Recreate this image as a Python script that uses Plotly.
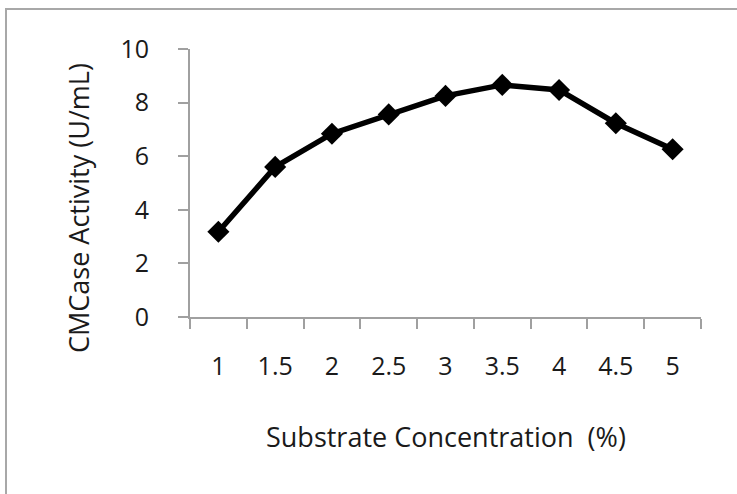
import plotly.graph_objects as go

# Substrate concentration (%) and measured CMCase activity (U/mL)
concentration = ["1", "1.5", "2", "2.5", "3", "3.5", "4", "4.5", "5"]
activity = [3.18, 5.60, 6.84, 7.56, 8.25, 8.66, 8.47, 7.23, 6.26]

y_ticks = [0, 2, 4, 6, 8, 10]

x_title = "Substrate Concentration  (%)"
y_title = "CMCase Activity (U/mL)"

W, H = 737, 494
L, R, T, B = 190, 36, 49, 177
plot_w = W - L - R
plot_h = H - T - B


def px_x(p):
    return (p - L) / plot_w


def px_y(p):
    return (H - B - p) / plot_h


font_family = "Open Sans, Liberation Sans, Arial, sans-serif"
text_color = "#1a1a1a"
axis_color = "#a0a0a0"
tick_size = 25
title_size = 27

fig = go.Figure()
fig.add_trace(go.Scatter(
    x=concentration,
    y=activity,
    mode="lines+markers",
    line=dict(color="black", width=5.5),
    marker=dict(symbol="diamond", size=17, color="black"),
    showlegend=False,
))

fig.update_layout(
    width=W,
    height=H,
    margin=dict(l=L, r=R, t=T, b=B),
    paper_bgcolor="white",
    plot_bgcolor="white",
    font=dict(family=font_family, color=text_color, size=tick_size),
    xaxis=dict(
        type="category",
        categoryorder="array",
        categoryarray=concentration,
        tickson="boundaries",
        ticks="outside",
        ticklen=10,
        tickwidth=2,
        tickcolor=axis_color,
        showline=True,
        linecolor=axis_color,
        linewidth=2,
        showgrid=False,
        zeroline=False,
        ticklabelstandoff=26,
        tickfont=dict(size=tick_size),
        range=[-0.5, len(concentration) - 0.5],
    ),
    yaxis=dict(
        range=[0, 10],
        tickvals=y_ticks,
        ticktext=[str(v) for v in y_ticks],
        ticks="outside",
        ticklen=10,
        tickwidth=2,
        tickcolor=axis_color,
        showline=True,
        linecolor=axis_color,
        linewidth=2,
        showgrid=False,
        zeroline=False,
        ticklabelstandoff=24,
        tickfont=dict(size=tick_size),
    ),
    annotations=[
        dict(
            text=x_title, xref="paper", yref="paper",
            x=0.5, y=px_y(436), xanchor="center", yanchor="middle",
            showarrow=False, font=dict(size=title_size),
        ),
        dict(
            text=y_title, xref="paper", yref="paper",
            x=px_x(78), y=px_y(208), xanchor="center", yanchor="middle",
            textangle=-90, showarrow=False, font=dict(size=title_size),
        ),
    ],
    shapes=[
        dict(
            type="rect", xref="paper", yref="paper",
            x0=px_x(6), x1=px_x(W + 10), y0=px_y(H + 10), y1=px_y(9),
            line=dict(color="#a8a8a8", width=2), layer="below",
        ),
    ],
)

fig.write_html("out.html")
